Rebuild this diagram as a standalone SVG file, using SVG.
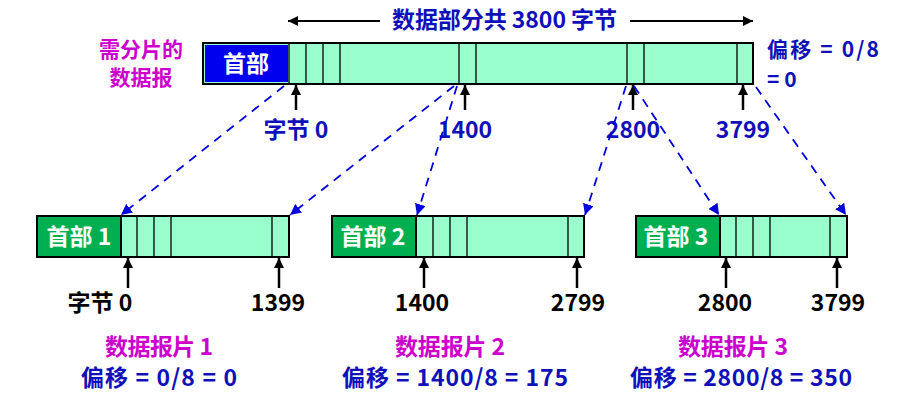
<svg xmlns="http://www.w3.org/2000/svg" width="897" height="407" viewBox="0 0 897 407">
<defs>
<marker id="ab" viewBox="0 0 10 10" refX="10" refY="5" markerWidth="10" markerHeight="10" markerUnits="userSpaceOnUse" orient="auto"><path d="M0,0 L10,5 L0,10 z" fill="#000"/></marker>
<marker id="ablue" viewBox="0 0 10 10" refX="10" refY="5" markerWidth="11" markerHeight="11" markerUnits="userSpaceOnUse" orient="auto"><path d="M0,0 L10,5 L0,10 z" fill="#0000DD"/></marker>
</defs>
<style>
text{font-family:"Noto Sans CJK SC","Liberation Sans",sans-serif;font-weight:bold;font-size:23px}
.blue{fill:#1010B8}
.mag{fill:#CC00CC}
.blk{fill:#000}
.wht{fill:#fff}
.data{fill:#99FFCC;stroke:#000;stroke-width:2}
.div{stroke:#000;stroke-width:1.3}
.up{stroke:#000;stroke-width:2.5;marker-end:url(#ab)}
.dash{stroke:#0000DD;stroke-width:1.8;stroke-dasharray:9,7;fill:none;marker-end:url(#ablue)}
.mid{text-anchor:middle}
.side{font-size:21px}
</style>
<rect width="897" height="407" fill="#fff"/>

<g id="title">
<line x1="380" y1="21" x2="288" y2="21" stroke="#000" stroke-width="2" marker-end="url(#ab)"/>
<line x1="630" y1="21" x2="753" y2="21" stroke="#000" stroke-width="2" marker-end="url(#ab)"/>
<text class="blue" x="392" y="28" textLength="225" lengthAdjust="spacing">数据部分共 3800 字节</text>
</g>

<g id="label-original">
<text class="mag mid side" x="141" y="57">需分片的</text>
<text class="mag mid side" x="141" y="85">数据报</text>
</g>

<g id="datagram">
<rect class="data" x="203" y="43" width="550" height="41"/>
<rect x="205" y="45" width="83" height="37" fill="#0000EE"/>
<line class="div" x1="289" y1="43" x2="289" y2="84"/>
<line class="div" x1="306" y1="43" x2="306" y2="84"/>
<line class="div" x1="323" y1="43" x2="323" y2="84"/>
<line class="div" x1="340" y1="43" x2="340" y2="84"/>
<line class="div" x1="459" y1="43" x2="459" y2="84"/>
<line class="div" x1="476" y1="43" x2="476" y2="84"/>
<line class="div" x1="627" y1="43" x2="627" y2="84"/>
<line class="div" x1="644" y1="43" x2="644" y2="84"/>
<line class="div" x1="737" y1="43" x2="737" y2="84"/>
<text class="wht mid" x="246" y="72">首部</text>
</g>

<g id="offset-original">
<text class="blue side" x="767" y="57" textLength="112" lengthAdjust="spacing">偏移 = 0/8</text>
<text class="blue side" x="767" y="87">= 0</text>
</g>

<g id="top-markers">
<line class="up" x1="296" y1="110" x2="296" y2="85"/>
<line class="up" x1="465" y1="110" x2="465" y2="85"/>
<line class="up" x1="633" y1="110" x2="633" y2="85"/>
<line class="up" x1="743" y1="110" x2="743" y2="85"/>
<text class="blue mid" x="296" y="138">字节 0</text>
<text class="blue mid" x="465" y="138">1400</text>
<text class="blue mid" x="633" y="138">2800</text>
<text class="blue mid" x="743" y="138">3799</text>
</g>

<g id="connectors">
<line class="dash" x1="284" y1="86" x2="121" y2="215"/>
<line class="dash" x1="454" y1="86" x2="290" y2="215"/>
<line class="dash" x1="457" y1="86" x2="417" y2="215"/>
<line class="dash" x1="626" y1="86" x2="585" y2="215"/>
<line class="dash" x1="634" y1="86" x2="719" y2="215"/>
<line class="dash" x1="756" y1="87" x2="846" y2="215"/>
</g>

<g id="fragment1">
<rect class="data" x="37" y="216" width="252" height="41"/>
<rect x="37" y="216" width="84" height="41" fill="#00B050" stroke="#000" stroke-width="2"/>
<line class="div" x1="137" y1="216" x2="137" y2="257"/>
<line class="div" x1="154" y1="216" x2="154" y2="257"/>
<line class="div" x1="171" y1="216" x2="171" y2="257"/>
<line class="div" x1="272" y1="216" x2="272" y2="257"/>
<text class="wht mid" x="79" y="245">首部 1</text>
<line class="up" x1="128" y1="288" x2="128" y2="258"/>
<line class="up" x1="279" y1="288" x2="279" y2="258"/>
<text class="blk mid" x="100" y="311">字节 0</text>
<text class="blk mid" x="278" y="311">1399</text>
<text class="mag" x="105" y="355" textLength="108" lengthAdjust="spacing">数据报片 1</text>
<text class="blue" x="81" y="386" textLength="156" lengthAdjust="spacing">偏移 = 0/8 = 0</text>
</g>

<g id="fragment2">
<rect class="data" x="332" y="216" width="252" height="41"/>
<rect x="332" y="216" width="84" height="41" fill="#00B050" stroke="#000" stroke-width="2"/>
<line class="div" x1="433" y1="216" x2="433" y2="257"/>
<line class="div" x1="450" y1="216" x2="450" y2="257"/>
<line class="div" x1="467" y1="216" x2="467" y2="257"/>
<line class="div" x1="568" y1="216" x2="568" y2="257"/>
<text class="wht mid" x="373" y="245">首部 2</text>
<line class="up" x1="424" y1="288" x2="424" y2="258"/>
<line class="up" x1="577" y1="288" x2="577" y2="258"/>
<text class="blk mid" x="422" y="311">1400</text>
<text class="blk mid" x="578" y="311">2799</text>
<text class="mag" x="395" y="355" textLength="110" lengthAdjust="spacing">数据报片 2</text>
<text class="blue" x="342" y="386" textLength="226" lengthAdjust="spacing">偏移 = 1400/8 = 175</text>
</g>

<g id="fragment3">
<rect class="data" x="636" y="216" width="211" height="41"/>
<rect x="636" y="216" width="84" height="41" fill="#00B050" stroke="#000" stroke-width="2"/>
<line class="div" x1="736" y1="216" x2="736" y2="257"/>
<line class="div" x1="753" y1="216" x2="753" y2="257"/>
<line class="div" x1="770" y1="216" x2="770" y2="257"/>
<line class="div" x1="830" y1="216" x2="830" y2="257"/>
<text class="wht mid" x="676" y="245">首部 3</text>
<line class="up" x1="726" y1="288" x2="726" y2="258"/>
<line class="up" x1="837" y1="288" x2="837" y2="258"/>
<text class="blk mid" x="725" y="311">2800</text>
<text class="blk mid" x="838" y="311">3799</text>
<text class="mag" x="678" y="355" textLength="110" lengthAdjust="spacing">数据报片 3</text>
<text class="blue" x="630" y="386" textLength="222" lengthAdjust="spacing">偏移 = 2800/8 = 350</text>
</g>
</svg>
